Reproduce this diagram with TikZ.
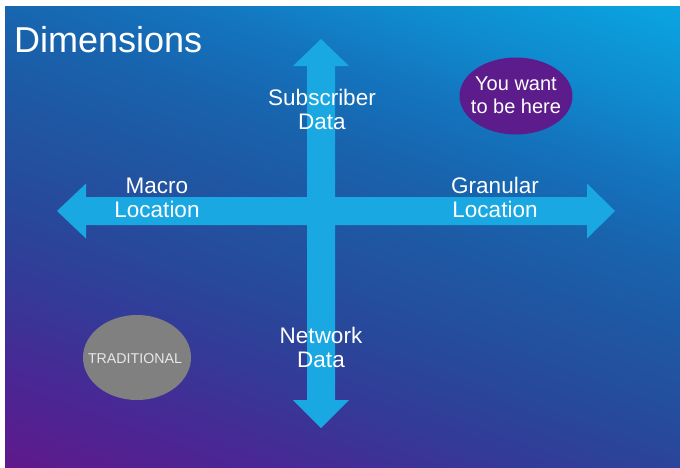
\documentclass[tikz,border=0pt]{standalone}
\usepackage{fontspec}
\setmainfont{Liberation Sans}
\usetikzlibrary{shapes.geometric}
\definecolor{bg0}{RGB}{95,25,140}
\definecolor{bg1}{RGB}{75,38,148}
\definecolor{bg2}{RGB}{52,58,152}
\definecolor{bg3}{RGB}{40,72,155}
\definecolor{bg4}{RGB}{32,85,162}
\definecolor{bg5}{RGB}{25,98,172}
\definecolor{bg6}{RGB}{20,114,188}
\definecolor{bg7}{RGB}{15,140,208}
\definecolor{bg8}{RGB}{10,165,225}
\definecolor{arrowc}{RGB}{26,168,226}
\definecolor{wantc}{RGB}{92,28,140}
\definecolor{tradc}{RGB}{128,128,128}
\pgfdeclarehorizontalshading{bgshade}{100bp}{color(0bp)=(bg0); color(18bp)=(bg0); color(26bp)=(bg1); color(35bp)=(bg2); color(42bp)=(bg3); color(50bp)=(bg4); color(58bp)=(bg5); color(65bp)=(bg6); color(73bp)=(bg7); color(82bp)=(bg8); color(100bp)=(bg8)}
\begin{document}
\begin{tikzpicture}[x=1pt,y=-1pt,
  lbl/.style={text=white, font=\fontsize{22.5}{24}\selectfont, anchor=base, inner sep=0pt},
  small/.style={text=white, font=\fontsize{20}{23}\selectfont, anchor=base, inner sep=0pt},
  blob/.style={ellipse, draw=none, inner sep=0pt}]
\useasboundingbox (0,0) rectangle (680,467);
\fill[white] (0,0) rectangle (680,467);
\shade[shading=bgshade, shading angle=70] (5,6) rectangle (680,467);
% horizontal arrow
\fill[arrowc] (57,211) -- (86,183.5) -- (86,197) -- (587,197) -- (587,183.5) -- (615,211)
  -- (587,238.5) -- (587,225) -- (86,225) -- (86,238.5) -- cycle;
% vertical arrow
\fill[arrowc] (321,39) -- (349,66) -- (335,66) -- (335,400) -- (349,400) -- (321,428)
  -- (293,400) -- (307,400) -- (307,66) -- (293,66) -- cycle;
% title
\node[text=white, font=\fontsize{36}{40}\selectfont, anchor=base west, inner sep=0pt] (title) at (14,52) {Dimensions};
% labels
\node[lbl] (sub1) at (322,105) {Subscriber};
\node[lbl] (sub2) at (322,129) {Data};
\node[lbl] (mac1) at (157,193) {Macro};
\node[lbl] (mac2) at (157,217) {Location};
\node[lbl] (gra1) at (495,193) {Granular};
\node[lbl] (gra2) at (495,217) {Location};
\node[lbl] (net1) at (321,343) {Network};
\node[lbl] (net2) at (321,367) {Data};
% ellipses
\node[blob, fill=wantc, minimum width=113pt, minimum height=77pt] (want) at (516,96) {};
\node[small] (want1) at (516,90) {You want};
\node[small] (want2) at (516,113) {to be here};
\node[blob, fill=tradc, minimum width=108pt, minimum height=85pt] (trad) at (137,357.5) {};
\node[text={rgb,255:red,232;green,232;blue,232}, font=\fontsize{14.2}{16}\selectfont, anchor=base, inner sep=0pt] (tradt) at (135,363) {TRADITIONAL};
\end{tikzpicture}
\end{document}
